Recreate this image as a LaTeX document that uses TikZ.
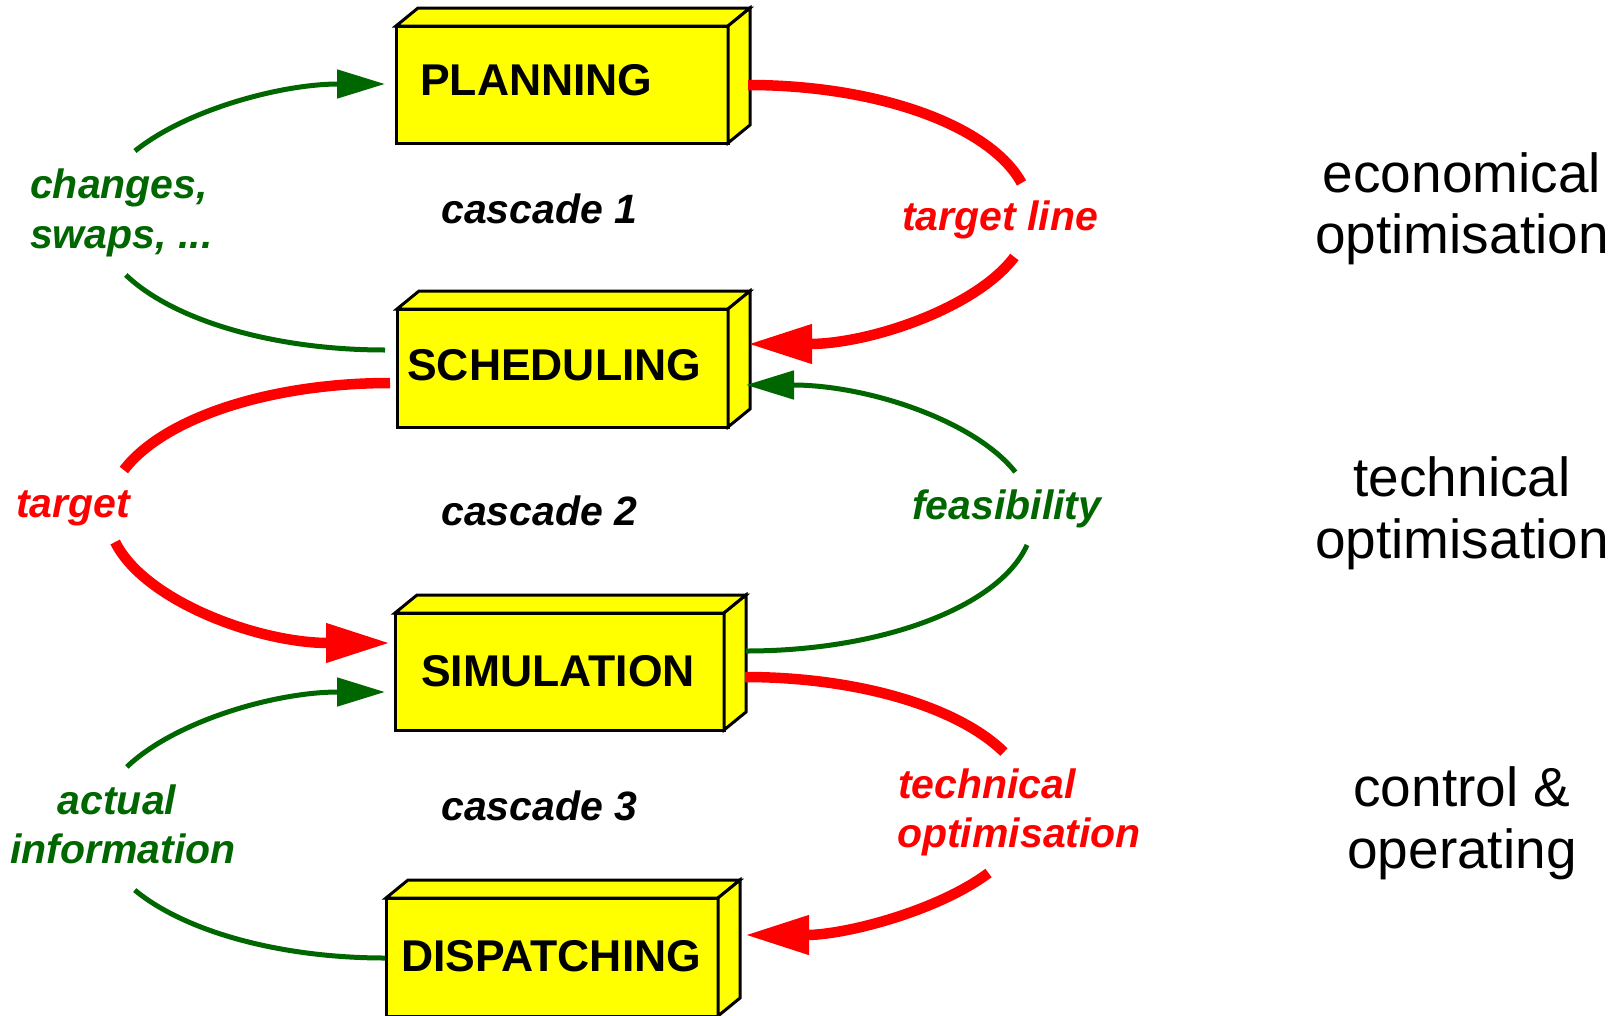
\documentclass[tikz,border=0pt]{standalone}
\usepackage{fontspec}
\setmainfont{Liberation Sans}
\usetikzlibrary{arrows.meta}
\definecolor{arcred}{RGB}{255,0,0}
\definecolor{arcgreen}{RGB}{0,102,0}
\definecolor{boxyellow}{RGB}{255,255,0}
\newcommand{\boxsides}[1]{%
  \path[sideface] (#1.north west) -- ++(22,18) -- ([shift={(22,18)}]#1.north east) -- (#1.north east) -- cycle;
  \path[sideface] (#1.north east) -- ++(22,18) -- ([shift={(22,18)}]#1.south east) -- (#1.south east) -- cycle;
}
\begin{document}
\begin{tikzpicture}[x=1pt,y=1pt,
  box/.style={draw=black, line width=3pt, fill=boxyellow, inner sep=0pt, outer sep=0pt, anchor=north west, line join=miter},
  sideface/.style={draw=black, line width=3pt, fill=boxyellow, line join=miter},
  boxtext/.style={anchor=base west, inner sep=0pt, font=\fontsize{44.5}{52}\selectfont\bfseries},
  cascadetext/.style={anchor=base west, inner sep=0pt, font=\fontsize{41}{49}\selectfont\bfseries\itshape},
  redlbl/.style={cascadetext, text=arcred},
  greenlbl/.style={cascadetext, text=arcgreen},
  sidetext/.style={anchor=base, inner sep=0pt, font=\fontsize{55}{63}\selectfont},
  redarc/.style={draw=arcred, line width=10.5pt},
  greenarc/.style={draw=arcgreen, line width=5pt},
  redtip/.style={-{Triangle[length=64pt,width=37pt]}},
  greentip/.style={-{Triangle[length=48pt,width=28pt]}}
]
\useasboundingbox (0,0) rectangle (1620,-1015);
\clip (0,0) rectangle (1620,-1015);

% boxes
\node[box, minimum width=332pt, minimum height=117pt] (plan) at (396,-26) {};
\boxsides{plan}
\node[box, minimum width=331pt, minimum height=118pt] (sched) at (397,-309) {};
\boxsides{sched}
\node[box, minimum width=329pt, minimum height=117pt] (sim) at (395,-613) {};
\boxsides{sim}
\node[box, minimum width=332pt, minimum height=118pt] (disp) at (386,-898) {};
\boxsides{disp}

\node[boxtext] (plantxt) at (420,-95) {PLANNING};
\node[boxtext] (schedtxt) at (407,-380) {SCHEDULING};
\node[boxtext] (simtxt) at (421,-686) {SIMULATION};
\node[boxtext] (disptxt) at (401,-971) {DISPATCHING};

% ellipse centres of the loops
\coordinate (g1) at (385,-217);
\coordinate (r1) at (748,-214.5);
\coordinate (r2) at (390,-513);
\coordinate (g2) at (746,-518);
\coordinate (g3) at (385,-825);
\coordinate (r3) at (745,-806);

% cascade 1
\draw[greenarc] (g1) ++(270:288pt and 133pt) arc[start angle=270, end angle=205.85, x radius=288pt, y radius=133pt];
\draw[greenarc, greentip] (g1) ++(150.25:288pt and 133pt) arc[start angle=150.25, end angle=90, x radius=288pt, y radius=133pt];
\draw[redarc] (r1) ++(90:282pt and 129.5pt) arc[start angle=90, end angle=14.08, x radius=282pt, y radius=129.5pt];
\draw[redarc, redtip] (r1) ++(-19.16:282pt and 129.5pt) arc[start angle=-19.16, end angle=-90, x radius=282pt, y radius=129.5pt];

% cascade 2
\draw[redarc] (r2) ++(90:282pt and 130pt) arc[start angle=90, end angle=160.7, x radius=282pt, y radius=130pt];
\draw[redarc, redtip] (r2) ++(192.9:282pt and 130pt) arc[start angle=192.9, end angle=270, x radius=282pt, y radius=130pt];
\draw[greenarc] (g2) ++(-90:287pt and 133pt) arc[start angle=-90, end angle=-11.7, x radius=287pt, y radius=133pt];
\draw[greenarc, greentip] (g2) ++(20.2:287pt and 133pt) arc[start angle=20.2, end angle=90, x radius=287pt, y radius=133pt];

% cascade 3
\draw[greenarc] (g3) ++(270:287pt and 133pt) arc[start angle=270, end angle=209.3, x radius=287pt, y radius=133pt];
\draw[greenarc, greentip] (g3) ++(154.1:287pt and 133pt) arc[start angle=154.1, end angle=90, x radius=287pt, y radius=133pt];
\draw[redarc] (r3) ++(90:285pt and 129pt) arc[start angle=90, end angle=24.7, x radius=285pt, y radius=129pt];
\draw[redarc, redtip] (r3) ++(-31.3:285pt and 129pt) arc[start angle=-31.3, end angle=-90, x radius=285pt, y radius=129pt];

% labels
\node[cascadetext] (c1) at (441,-223) {cascade 1};
\node[cascadetext] (c2) at (441,-525) {cascade 2};
\node[cascadetext] (c3) at (441,-820) {cascade 3};

\node[greenlbl] (chg1) at (30,-198) {changes,};
\node[greenlbl] (chg2) at (30,-248) {swaps, ...};
\node[redlbl] (tline) at (902,-230) {target line};
\node[redlbl] (tgt) at (16,-517) {target};
\node[greenlbl] (feas) at (912,-519) {feasibility};
\node[greenlbl, anchor=base] (act1) at (117,-814) {actual};
\node[greenlbl, anchor=base] (act2) at (123,-863) {information};
\node[redlbl] (topt1) at (898,-798) {technical};
\node[redlbl] (topt2) at (897,-847) {optimisation};

\node[sidetext] (eco1) at (1462,-192) {economical};
\node[sidetext] (eco2) at (1462,-253) {optimisation};
\node[sidetext] (tec1) at (1462,-496) {technical};
\node[sidetext] (tec2) at (1462,-558) {optimisation};
\node[sidetext] (ctl1) at (1462,-806) {control \&};
\node[sidetext] (ctl2) at (1462,-868) {operating};
\end{tikzpicture}
\end{document}
